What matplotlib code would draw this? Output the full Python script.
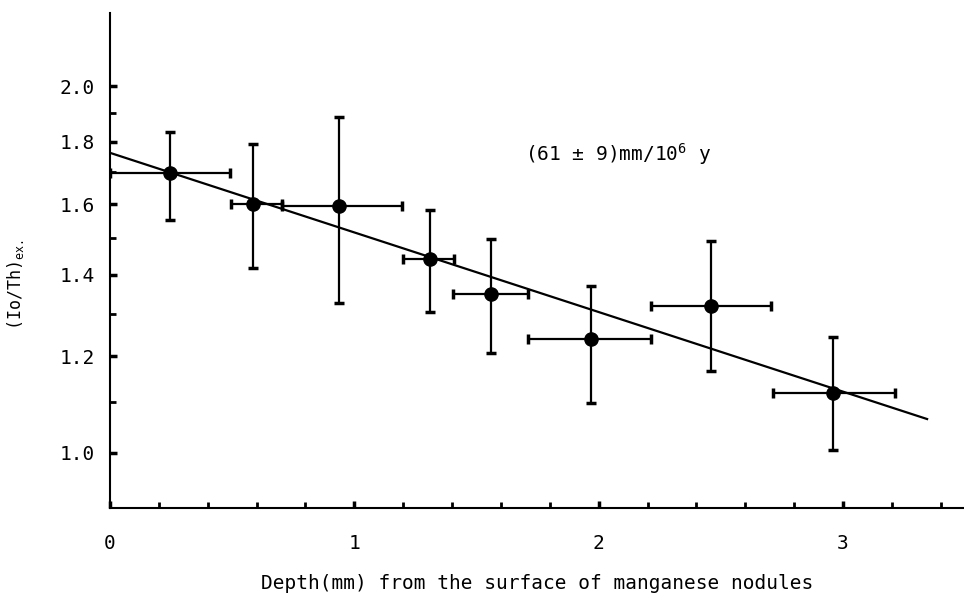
import numpy as np
import matplotlib.pyplot as plt
from matplotlib.ticker import FixedLocator, NullFormatter, FixedFormatter

plt.rcParams['font.family'] = 'DejaVu Sans Mono'
plt.rcParams['mathtext.fontset'] = 'custom'
plt.rcParams['mathtext.rm'] = 'DejaVu Sans Mono'
plt.rcParams['mathtext.it'] = 'DejaVu Sans Mono'

# measured points (depth in mm, (Io/Th)ex)
depth = np.array([0.245, 0.585, 0.937, 1.309, 1.560, 1.969, 2.460, 2.960])
depth_lo = np.array([0.0, 0.495, 0.704, 1.199, 1.404, 1.711, 2.215, 2.714])
depth_hi = np.array([0.491, 0.704, 1.195, 1.408, 1.711, 2.215, 2.706, 3.214])
ratio = np.array([1.697, 1.601, 1.594, 1.443, 1.350, 1.240, 1.320, 1.120])
ratio_lo = np.array([1.553, 1.418, 1.327, 1.305, 1.208, 1.099, 1.168, 1.006])
ratio_hi = np.array([1.834, 1.793, 1.887, 1.582, 1.498, 1.371, 1.493, 1.245])

# fitted line end points
fit_x = [0.0, 3.344]
fit_y = [1.763, 1.066]

yticks = [1.0, 1.2, 1.4, 1.6, 1.8, 2.0]
yminor = [1.1, 1.3, 1.5, 1.7, 1.9]
xticks = [0, 1, 2, 3]
xminor = [0.2, 0.4, 0.6, 0.8, 1.2, 1.4, 1.6, 1.8, 2.2, 2.4, 2.6, 2.8, 3.2, 3.4]

fig = plt.figure(figsize=(9.64, 5.93), dpi=100)
ax = fig.add_axes([0.1141, 0.1433, 0.8859, 0.8347])

xerr = [depth - depth_lo, depth_hi - depth]
yerr = [ratio - ratio_lo, ratio_hi - ratio]
ax.errorbar(depth, ratio, xerr=xerr, yerr=yerr, fmt='o', color='black',
            ms=9.5, elinewidth=1.6, capsize=3.5, capthick=2.5)
ax.plot(fit_x, fit_y, color='black', lw=1.6)

ax.set_yscale('log')
ax.set_xlim(0, 3.495)
ax.set_ylim(0.901, 2.296)

ax.yaxis.set_major_locator(FixedLocator(yticks))
ax.yaxis.set_major_formatter(FixedFormatter(['1.0', '1.2', '1.4', '1.6', '1.8', '2.0']))
ax.yaxis.set_minor_locator(FixedLocator(yminor))
ax.yaxis.set_minor_formatter(NullFormatter())
ax.xaxis.set_major_locator(FixedLocator(xticks))
ax.xaxis.set_minor_locator(FixedLocator(xminor))

ax.spines['top'].set_visible(False)
ax.spines['right'].set_visible(False)
ax.spines['left'].set_linewidth(1.5)
ax.spines['bottom'].set_linewidth(1.5)

ax.tick_params(axis='both', which='major', direction='in', length=5, width=2.5,
               labelsize=14)
ax.tick_params(axis='y', which='major', pad=11)
ax.tick_params(axis='x', which='major', pad=19)
ax.tick_params(axis='both', which='minor', direction='in', length=4, width=2)

ax.set_xlabel('Depth(mm) from the surface of manganese nodules', fontsize=14, labelpad=15)
ax.set_ylabel('(Io/Th)$_{\\mathrm{ex.}}$', fontsize=12)
ax.yaxis.set_label_coords(-0.098, 0.45)

ax.text(1.70, 1.76, '(61 $\\pm$ 9)mm/10$^6$ y', fontsize=14, ha='left', va='center')

fig.savefig('out.png', dpi=100)
